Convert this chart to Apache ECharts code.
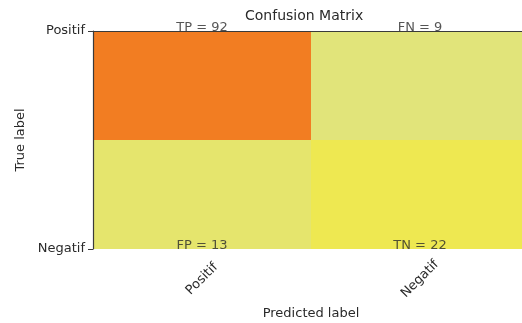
<!DOCTYPE html>
<html>
<head>
<meta charset="utf-8">
<script src="https://cdn.jsdelivr.net/npm/echarts@6/dist/echarts.min.js"></script>
<style>
  html, body { margin: 0; padding: 0; background: #fff; }
  #chart { width: 522px; height: 323px; }
</style>
</head>
<body>
<div id="chart"></div>
<script>
// confusion matrix, rows = true label, cols = predicted label
const predictedLabels = ['Positif', 'Negatif']
const trueLabels = ['Positif', 'Negatif']
const cellNames = [['TP', 'FN'], ['FP', 'TN']]
const counts = [[92, 9], [13, 22]]

const font = 'DejaVu Sans'
const textColor = '#2a2a2a'
const spine = '#3a3a3a'

const cells = []
const texts = []
counts.forEach((row, r) => {
  row.forEach((v, c) => {
    cells.push([c, r, v])
    texts.push({ value: [c, r], name: cellNames[r][c] + ' = ' + v })
  })
})

const chart = echarts.init(document.getElementById('chart'))
chart.setOption({
  animation: false,
  title: {
    text: 'Confusion Matrix',
    left: 245,
    top: 9,
    padding: 0,
    textStyle: { fontFamily: font, fontSize: 14, fontWeight: 'normal', color: textColor }
  },
  // plot area runs past the right edge of the window (cropped figure)
  grid: { left: 93, width: 436, top: 31, bottom: 74, outerBoundsMode: 'none' },
  visualMap: {
    show: false,
    seriesIndex: 0,
    dimension: 2,
    min: 9,
    max: 92,
    inRange: { color: ['#e1e47a', '#f6ea38', '#f5c22e', '#f4a028', '#f27d22'] }
  },
  xAxis: [{
    type: 'category',
    data: predictedLabels,
    z: 10,
    name: 'Predicted label',
    nameLocation: 'middle',
    nameGap: 52,
    nameTextStyle: { fontFamily: font, fontSize: 13, color: textColor },
    axisLine: { lineStyle: { color: spine, width: 1.2 } },
    axisTick: { alignWithLabel: true, length: 5, lineStyle: { color: spine } },
    axisLabel: {
      rotate: 45,
      align: 'center',
      verticalAlign: 'middle',
      margin: 30,
      fontFamily: font,
      fontSize: 13,
      color: textColor
    },
    splitLine: { show: false }
  }, {
    type: 'category',
    data: predictedLabels,
    position: 'top',
    z: 10,
    axisLine: { lineStyle: { color: spine, width: 1.2 } },
    axisTick: { show: false },
    axisLabel: { show: false }
  }],
  yAxis: {
    type: 'value',
    min: 0,
    max: 1,
    interval: 1,
    inverse: true,
    z: 10,
    name: 'True label',
    nameLocation: 'middle',
    nameGap: 66,
    nameRotate: 90,
    nameTextStyle: { fontFamily: font, fontSize: 13, color: textColor },
    axisLine: { show: true, lineStyle: { color: spine, width: 1.2 } },
    axisTick: { show: true, length: 5, lineStyle: { color: spine } },
    axisLabel: {
      margin: 8,
      fontFamily: font,
      fontSize: 13,
      color: textColor,
      formatter: v => trueLabels[v]
    },
    splitLine: { show: false }
  },
  series: [{
    type: 'custom',
    data: cells,
    renderItem(params, api) {
      const c = api.value(0)
      const r = api.value(1)
      const p0 = api.coord([c, r * 0.5])
      const p1 = api.coord([c, r * 0.5 + 0.5])
      const w = api.size([1, 0])[0]
      return {
        type: 'rect',
        shape: { x: p0[0] - w / 2, y: Math.min(p0[1], p1[1]), width: w, height: Math.abs(p1[1] - p0[1]) },
        style: { fill: api.visual('color') }
      }
    }
  }, {
    type: 'scatter',
    symbolSize: 0,
    z: 20,
    data: texts,
    label: {
      show: true,
      position: 'inside',
      offset: [0, -3],
      formatter: p => p.name,
      fontFamily: font,
      fontSize: 13,
      color: textColor
    }
  }]
})
</script>
</body>
</html>
